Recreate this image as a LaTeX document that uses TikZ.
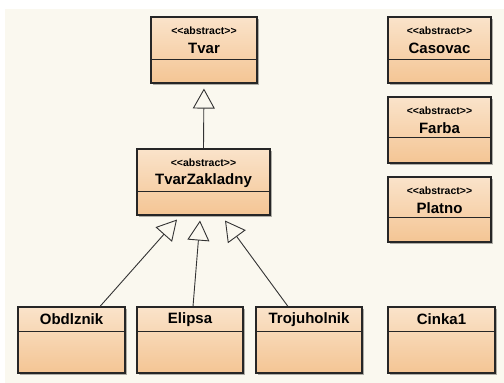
\documentclass[tikz,border=0pt]{standalone}
\usepackage{fontspec}
\setmainfont{Liberation Sans}
\usepackage{xcolor}
\usetikzlibrary{arrows.meta, shadows, positioning}

\definecolor{canvas}{HTML}{FAF8EF}
\definecolor{boxtop}{HTML}{FAE3CA}
\definecolor{boxbot}{HTML}{F4C594}

\newcommand{\abstr}{<{}<abstract>{}>}

\begin{document}
\begin{tikzpicture}[
    x=1pt, y=-1pt,
    cls/.style={draw=black!85, line width=1.1pt, top color=boxtop, bottom color=boxbot,
                drop shadow={shadow xshift=2pt, shadow yshift=-2pt, opacity=.3, fill=black},
                minimum width=106pt, minimum height=66pt, inner sep=0pt},
    sep/.style={draw=black!85, line width=0.9pt},
    stereo/.style={font=\bfseries\fontsize{10.5}{12}\selectfont, inner sep=0pt},
    cname/.style={font=\bfseries\fontsize{15}{17}\selectfont, inner sep=0pt},
    inh/.style={-{Triangle[open, length=20pt, width=22pt]}, draw=black!80, line width=0.9pt},
  ]

  \useasboundingbox (0,0) rectangle (504,383);
  \fill[white] (0,0) rectangle (504,383);
  \fill[canvas] (5,9) rectangle (504,383);

  % abstract classes
  \node[cls] (tvar) at (204,50) {};
  \draw[sep] ([yshift=-43pt]tvar.north west) -- ([yshift=-43pt]tvar.north east);
  \node[stereo] at ([yshift=-14pt]tvar.north) {\abstr};
  \node[cname] at ([yshift=-32pt]tvar.north) {Tvar};

  \node[cls, minimum width=133pt] (tz) at (203.5,182) {};
  \draw[sep] ([yshift=-43pt]tz.north west) -- ([yshift=-43pt]tz.north east);
  \node[stereo] at ([yshift=-14pt]tz.north) {\abstr};
  \node[cname] at ([yshift=-32pt]tz.north) {TvarZakladny};

  \node[cls, minimum width=103pt] (casovac) at (439.5,50) {};
  \draw[sep] ([yshift=-43pt]casovac.north west) -- ([yshift=-43pt]casovac.north east);
  \node[stereo] at ([yshift=-14pt]casovac.north) {\abstr};
  \node[cname] at ([yshift=-32pt]casovac.north) {Casovac};

  \node[cls, minimum width=103pt] (farba) at (439.5,130) {};
  \draw[sep] ([yshift=-41pt]farba.north west) -- ([yshift=-41pt]farba.north east);
  \node[stereo] at ([yshift=-14pt]farba.north) {\abstr};
  \node[cname] at ([yshift=-32pt]farba.north) {Farba};

  \node[cls, minimum width=103pt, minimum height=65pt] (platno) at (439.5,209.5) {};
  \draw[sep] ([yshift=-41pt]platno.north west) -- ([yshift=-41pt]platno.north east);
  \node[stereo] at ([yshift=-14pt]platno.north) {\abstr};
  \node[cname] at ([yshift=-32pt]platno.north) {Platno};

  % concrete classes
  \node[cls, minimum width=107pt] (obd) at (71.5,340) {};
  \draw[sep] ([yshift=-25pt]obd.north west) -- ([yshift=-25pt]obd.north east);
  \node[cname] at ([yshift=-13pt]obd.north) {Obdlznik};

  \node[cls] (elipsa) at (190,340) {};
  \draw[sep] ([yshift=-25pt]elipsa.north west) -- ([yshift=-25pt]elipsa.north east);
  \node[cname] at ([yshift=-13pt]elipsa.north) {Elipsa};

  \node[cls] (troj) at (309,340) {};
  \draw[sep] ([yshift=-25pt]troj.north west) -- ([yshift=-25pt]troj.north east);
  \node[cname] at ([yshift=-13pt]troj.north) {Trojuholnik};

  \node[cls, minimum width=107pt] (cinka) at (441.5,340) {};
  \draw[sep] ([yshift=-25pt]cinka.north west) -- ([yshift=-25pt]cinka.north east);
  \node[cname] at ([yshift=-13pt]cinka.north) {Cinka1};

  % generalizations
  \draw[inh, shorten >=5pt] (tz.north) -- (tvar.south);
  \draw[inh] ([xshift=28.5pt]obd.north) -- ([xshift=-26.5pt, yshift=-4pt]tz.south);
  \draw[inh] ([xshift=3pt]elipsa.north) -- ([xshift=-3.5pt, yshift=-5pt]tz.south);
  \draw[inh] ([xshift=-21pt]troj.north) -- ([xshift=21.5pt, yshift=-5pt]tz.south);

\end{tikzpicture}
\end{document}
